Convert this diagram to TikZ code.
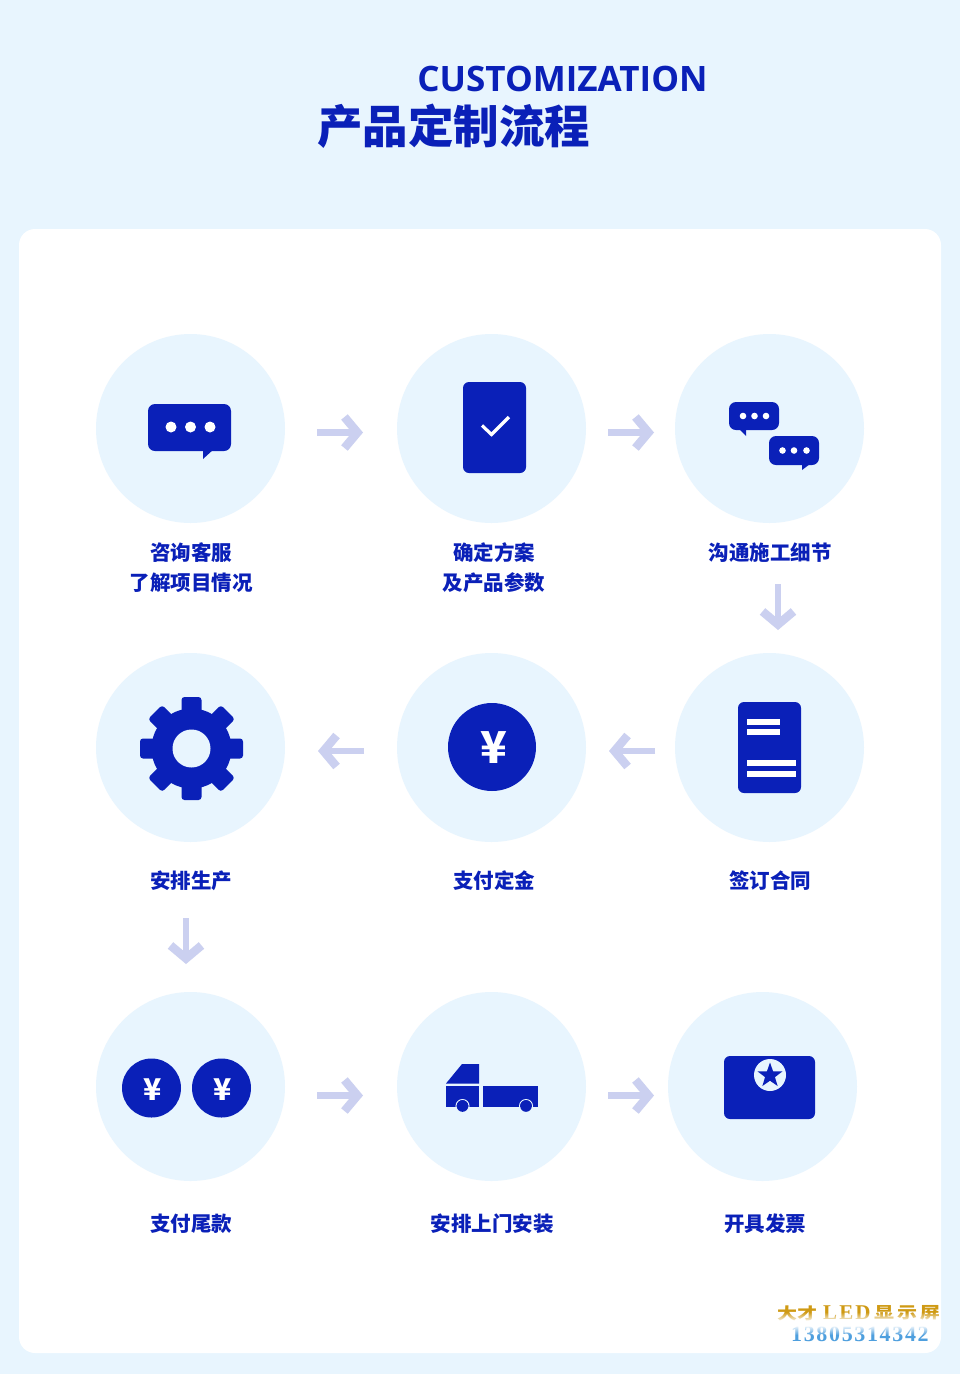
\documentclass[tikz,border=0pt]{standalone}
\usepackage{fontspec}
\setmainfont{Noto Sans CJK SC}
\newfontfamily\latinhead{Open Sans}
\newfontfamily\markserif{Liberation Serif}
\newfontfamily\markcjk{Noto Sans CJK SC}[FakeStretch=1.25]
\usetikzlibrary{arrows.meta,shapes.geometric,fadings}
\definecolor{pagebg}{HTML}{E8F5FE}
\definecolor{brand}{HTML}{0A20B8}
\definecolor{arrowtint}{HTML}{CBD0F0}
\definecolor{markgold}{HTML}{CF9A14}
\definecolor{markblue}{HTML}{4E9FDE}
\tikzset{
 disc/.style={circle,fill=pagebg,minimum size=189pt,inner sep=0pt},
 flow/.style={draw=arrowtint,line width=6.2pt,-{Straight Barb[length=13pt,width=31pt,line width=8.5pt]}},
 lab/.style={font=\fontsize{20.5}{30}\selectfont\bfseries,text=brand,align=center,inner sep=0pt},
 solid/.style={fill=brand,draw=none},
 hole/.style={fill=white,draw=none},
 tooth/.style={fill=brand,draw=none,rounded corners=3pt},
 wmark/.style={inner sep=0pt,anchor=west},
}
\begin{document}
\begin{tikzpicture}[x=1pt,y=-1pt]
\useasboundingbox (0,0) rectangle (960,1374);
\fill[pagebg] (0,0) rectangle (960,1374);
\fill[white,rounded corners=16pt] (19,229) rectangle (941,1353);

\node[inner sep=0pt,text=brand] (entitle) at (562.5,79) {\fontsize{35}{38}\selectfont\latinhead\bfseries CUSTOMIZATION};
\node[inner sep=0pt,text=brand] (cntitle) at (453.5,126.5) {\fontsize{45.5}{50}\selectfont\bfseries 产品定制流程};

\node[disc] (c1) at (190.5,428.5) {};
\node[disc] (c2) at (491.5,428.5) {};
\node[disc] (c3) at (769.5,428.5) {};
\node[disc] (c4) at (190.5,747.5) {};
\node[disc] (c5) at (491.5,747.5) {};
\node[disc] (c6) at (769.5,747.5) {};
\node[disc] (c7) at (190.5,1086.5) {};
\node[disc] (c8) at (491.5,1086.5) {};
\node[disc] (c9) at (762.5,1086.5) {};

\node[lab] (l1) at (191,567.5) {咨询客服\\了解项目情况};
\node[lab] (l2) at (494,567.5) {确定方案\\及产品参数};
\node[lab] (l3) at (770,552.5) {沟通施工细节};
\node[lab] (l4) at (191,880.5) {安排生产};
\node[lab] (l5) at (494,880.5) {支付定金};
\node[lab] (l6) at (770,880.5) {签订合同};
\node[lab] (l7) at (191,1223.5) {支付尾款};
\node[lab] (l8) at (492,1223.5) {安排上门安装};
\node[lab] (l9) at (765,1223.5) {开具发票};

% arrows
\coordinate (a1s) at (317,432.5); \coordinate (a1e) at (363,432.5);
\coordinate (a2s) at (608,432.5); \coordinate (a2e) at (654,432.5);
\coordinate (a3s) at (778,584); \coordinate (a3e) at (778,630);
\coordinate (a4s) at (655,751); \coordinate (a4e) at (609,751);
\coordinate (a5s) at (364,751); \coordinate (a5e) at (318,751);
\coordinate (a6s) at (186,918); \coordinate (a6e) at (186,964);
\coordinate (a7s) at (317,1095.5); \coordinate (a7e) at (363,1095.5);
\coordinate (a8s) at (608,1095.5); \coordinate (a8e) at (654,1095.5);
\foreach \n in {1,...,8} \draw[flow] (a\n s) -- (a\n e);

% icon 1: speech bubble
\fill[solid,rounded corners=7pt] (148,404) rectangle (231,451);
\fill[solid] (203,449) -- (203,459) -- (214,449) -- cycle;
\foreach \x in {171,190.5,210} \fill[hole] (\x,427) circle (5.5);

% icon 2: tablet with tick
\fill[solid,rounded corners=6pt] (463,382) rectangle (526,473);
\draw[white,line width=3.2pt] (482,425.5) -- (491.5,434.5) -- (509,417);

% icon 3: two bubbles
\fill[solid,rounded corners=7pt] (729,402) rectangle (779,430);
\fill[solid] (739,429) -- (746,436) -- (746,429) -- cycle;
\foreach \x in {743,754.5,766} \fill[hole] (\x,416) circle (3.3);
\fill[solid,rounded corners=7pt] (769,436) rectangle (819,465);
\fill[solid] (802,464) -- (802,470) -- (810,464) -- cycle;
\foreach \x in {782.5,794,806.5} \fill[hole] (\x,450.5) circle (3.3);

% icon 4: gear
\begin{scope}[shift={(191.5,748.5)}]
\foreach \a in {0,45,...,315}
  \fill[tooth,rotate=\a] (-10,-51.5) rectangle (10,-25);
\fill[solid] (0,0) circle (40);
\fill[pagebg] (0,0) circle (19);
\end{scope}

% icon 5: coin
\fill[solid] (492,747) circle (44);
\node[inner sep=0pt,text=white] (yen1) at (493.5,748) {\fontsize{44}{46}\selectfont\bfseries ¥};

% icon 6: document
\fill[solid,rounded corners=6pt] (738,702) rectangle (801,793);
\fill[hole] (747,719) rectangle (780,725);
\fill[hole] (747,729) rectangle (780,735);
\fill[hole] (747,760) rectangle (796,766);
\fill[hole] (747,771) rectangle (796,777);

% icon 7: two coins
\fill[solid] (151.5,1088) circle (29.5);
\fill[solid] (221.5,1088) circle (29.5);
\node[inner sep=0pt,text=white] (yen2) at (153,1090) {\fontsize{30}{32}\selectfont\bfseries ¥};
\node[inner sep=0pt,text=white] (yen3) at (223,1090) {\fontsize{30}{32}\selectfont\bfseries ¥};

% icon 8: truck
\fill[solid] (446,1083.5) -- (462,1064) -- (479,1064) -- (479,1083.5) -- cycle;
\fill[solid] (446,1086) rectangle (479,1107);
\fill[solid] (483,1086) rectangle (538,1107);
\fill[solid,draw=pagebg,line width=1pt] (462.5,1106) circle (6.5);
\fill[solid,draw=pagebg,line width=1pt] (526,1106) circle (6.5);
\fill[pagebg] (450,1107.3) rectangle (475,1112.5);
\fill[pagebg] (515,1107.3) rectangle (537,1112.5);
\fill[solid] (462.5,1106) circle (5.8);
\fill[solid] (526,1106) circle (5.8);

% icon 9: invoice
\fill[solid,rounded corners=6pt] (724,1056) rectangle (815,1119);
\fill[pagebg] (770,1075) circle (16);
\node[star,star points=5,star point ratio=2.5,fill=brand,minimum size=26pt,inner sep=0pt] (st) at (770,1075.5) {};

% watermark
\node[wmark,text=markgold] (wma) at (777,1313) {\fontsize{16}{18}\selectfont\markcjk\bfseries 大才};
\node[wmark,text=markgold] (wmb) at (823,1313) {\fontsize{21}{22}\selectfont\markserif\addfontfeatures{LetterSpace=10}\bfseries LED};
\node[wmark,text=markgold] (wmc) at (874,1313) {\fontsize{16}{18}\selectfont\markcjk\addfontfeatures{LetterSpace=18}\bfseries 显示屏};
\node[wmark,text=markblue] (wmd) at (791,1334.5) {\fontsize{22}{24}\selectfont\markserif\addfontfeatures{LetterSpace=7.5}\bfseries 13805314342};
\fill[white,path fading=north] (770,1312) rectangle (941,1322);
\fill[white,path fading=south] (785,1325) rectangle (932,1335);
\end{tikzpicture}
\end{document}
